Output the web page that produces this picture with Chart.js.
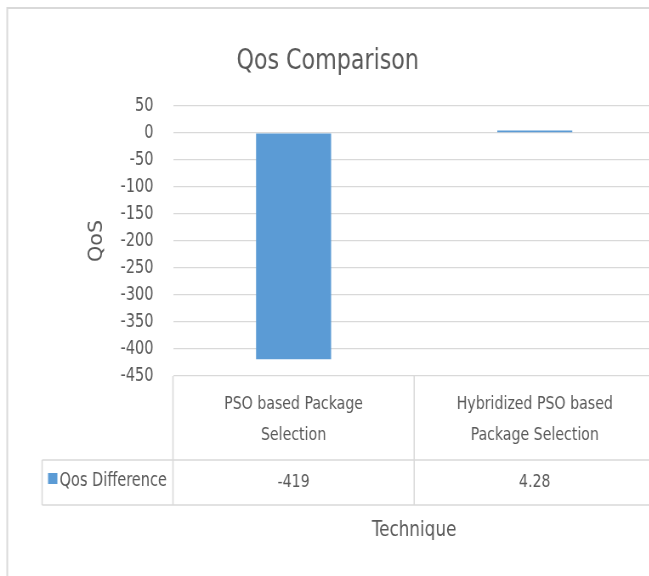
<!DOCTYPE html>
<html>
<head>
<meta charset="utf-8">
<script src="https://cdn.jsdelivr.net/npm/chart.js@4.4.0/dist/chart.umd.min.js"></script>
<style>
  html, body { margin: 0; padding: 0; background: #fff; overflow: hidden; }
  /* the original picture is squeezed sideways, so the whole chart is too */
  #wrap { position: absolute; left: 0; top: 0; width: 784px; height: 576px;
          transform: scaleX(0.85); transform-origin: 0 0; }
</style>
</head>
<body>
<div id="wrap"><canvas id="qosChart" width="784" height="576"></canvas></div>
<script>
// data
var categories = [["PSO based Package", "Selection"], ["Hybridized PSO based", "Package Selection"]];
var seriesName = "Qos Difference";
var qosValues = [-419, 4.28];
var yTicks = [50, 0, -50, -100, -150, -200, -250, -300, -350, -400, -450];

var FONT = "'DejaVu Sans Condensed', 'Liberation Sans', sans-serif";
var TEXT = '#595959';
var LINE = '#d9d9d9';
var BLUE = '#5b9bd5';

// frame, data table under the plot, x axis title
var tablePlugin = {
  id: 'dataTable',
  beforeDraw: function(chart) {
    var c = chart.ctx;
    c.save();
    c.strokeStyle = LINE;
    c.lineWidth = 2;
    c.beginPath();
    c.moveTo(8.5, 576);
    c.lineTo(8.5, 8);
    c.lineTo(chart.width, 8);
    c.stroke();
    c.restore();
  },
  afterDraw: function(chart) {
    var c = chart.ctx;
    var x = chart.scales.x;
    var area = chart.chartArea;
    var half = (x.getPixelForValue(1) - x.getPixelForValue(0)) / 2;
    var top = area.bottom, mid = 460, bot = 505, legL = 49.5;

    c.save();
    c.strokeStyle = LINE;
    c.lineWidth = 1.5;
    c.beginPath();
    for (var i = 0; i <= categories.length; i++) {
      var px = i < categories.length ? x.getPixelForValue(i) - half : x.getPixelForValue(i - 1) + half;
      c.moveTo(px, top);
      c.lineTo(px, bot);
    }
    c.moveTo(legL, mid); c.lineTo(area.right, mid);
    c.moveTo(legL, bot); c.lineTo(area.right, bot);
    c.moveTo(legL, mid); c.lineTo(legL, bot);
    c.stroke();

    c.fillStyle = TEXT;
    c.font = '18.5px ' + FONT;
    c.textAlign = 'center';
    c.textBaseline = 'middle';
    categories.forEach(function(lines, i) {
      var cx = x.getPixelForValue(i);
      lines.forEach(function(t, j) {
        c.fillText(t, cx, 404 + j * 31);
      });
      c.fillText(String(qosValues[i]), cx, 482);
    });

    // legend key
    c.fillStyle = BLUE;
    c.fillRect(56.5, 473, 11, 11);
    c.fillStyle = TEXT;
    c.font = '19px ' + FONT;
    c.textAlign = 'left';
    c.fillText(seriesName, 70, 481);

    // x axis title
    c.font = '22px ' + FONT;
    c.textAlign = 'center';
    c.fillText('Technique', (area.left + area.right) / 2, 530);
    c.restore();
  }
};

var ctx = document.getElementById('qosChart').getContext('2d');
var chart = new Chart(ctx, {
  type: 'bar',
  data: {
    labels: categories,
    datasets: [{
      label: seriesName,
      data: qosValues,
      backgroundColor: BLUE,
      borderWidth: 0,
      barPercentage: 1,
      categoryPercentage: 0.311
    }]
  },
  options: {
    responsive: false,
    animation: false,
    layout: { padding: { left: 0, right: 13, top: 0, bottom: 200 } },
    plugins: {
      legend: { display: false },
      tooltip: { enabled: false },
      title: {
        display: true,
        text: 'Qos Comparison',
        color: TEXT,
        font: { family: FONT, size: 29, weight: 'normal' },
        padding: { top: 44, bottom: 27 }
      }
    },
    scales: {
      x: { display: false },
      y: {
        min: -450,
        max: 50,
        afterBuildTicks: function(scale) {
          scale.ticks = yTicks.map(function(v) { return { value: v }; });
        },
        afterFit: function(scale) { scale.width = 203.5; },
        border: { display: false },
        grid: { color: LINE, lineWidth: 1.3, drawTicks: false },
        ticks: { color: TEXT, padding: 23, font: { family: FONT, size: 19 } },
        title: {
          display: true,
          text: 'QoS',
          color: TEXT,
          font: { family: FONT, size: 23 },
          padding: { top: 100, bottom: 0 }
        }
      }
    }
  },
  plugins: [tablePlugin]
});
</script>
</body>
</html>
